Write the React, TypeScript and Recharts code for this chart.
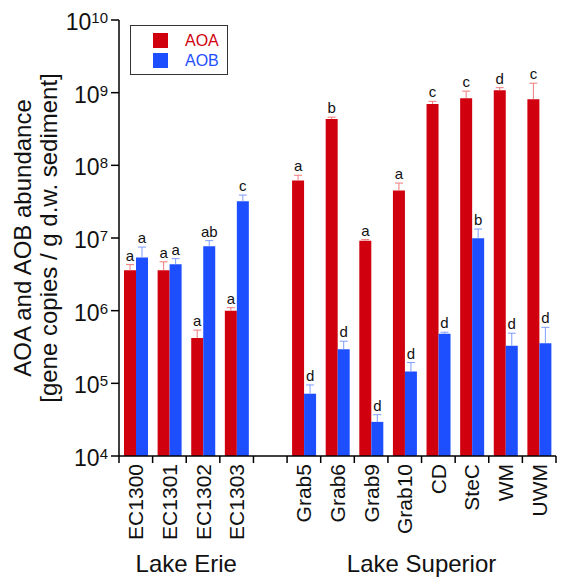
import React from 'react';
import { ComposedChart, Bar, XAxis, YAxis, LabelList, Legend } from 'recharts';

// sites, with an empty slot between the two lakes
const sites = ['EC1300', 'EC1301', 'EC1302', 'EC1303', '', 'Grab5', 'Grab6', 'Grab9', 'Grab10', 'CD', 'SteC', 'WM', 'UWM'];

const aoaValues = [3.6e6, 3.6e6, 4.2e5, 1.0e6, null, 6.2e7, 4.35e8, 9.2e6, 4.5e7, 7.0e8, 8.4e8, 1.08e9, 8.1e8];
const aoaErrors = [0.7e6, 1.1e6, 1.2e5, 1.0e5, null, 1.1e7, 2.5e7, 3.0e5, 1.2e7, 6.0e7, 2.1e8, 9.0e7, 5.4e8];
const aoaLetters = ['a', 'a', 'a', 'a', '', 'a', 'b', 'a', 'a', 'c', 'c', 'd', 'c'];

const aobValues = [5.4e6, 4.35e6, 7.7e6, 3.2e7, null, 7.2e4, 2.95e5, 2.95e4, 1.46e5, 4.8e5, 9.9e6, 3.3e5, 3.57e5];
const aobErrors = [2.1e6, 0.85e6, 1.5e6, 7.0e6, null, 2.3e4, 8.5e4, 7.5e3, 4.7e4, 2.5e4, 3.4e6, 1.6e5, 2.33e5];
const aobLetters = ['a', 'a', 'ab', 'c', '', 'd', 'd', 'd', 'd', 'd', 'b', 'd', 'd'];

const lakeNames = ['Lake Erie', 'Lake Superior'];
const lakeStart = [0, 5];
const lakeEnd = [3, 12];

const yTicks = [1e4, 1e5, 1e6, 1e7, 1e8, 1e9, 1e10];
const Y_MIN = 1e4;
const Y_MAX = 1e10;

const AOA_COLOR = '#d0000e';
const AOB_COLOR = '#1e4fff';
const AOA_ERR = '#f07a7a';
const AOB_ERR = '#7f9bff';
const FONT = '"Liberation Sans", Arial, sans-serif';

const W = 566;
const H = 584;
const MARGIN = { top: 20, right: 10, bottom: 0, left: 0 };
const Y_AXIS_W = 119;
const X_AXIS_H = 128;
const PLOT_W = W - MARGIN.left - MARGIN.right - Y_AXIS_W;
const BAND = PLOT_W / sites.length;
const X_TICK = 7;
const X_TICK_MARGIN = 1;

const data = sites.map((name, i) => ({
  name,
  i,
  aoa: aoaValues[i],
  aob: aobValues[i],
}));

// upper error whisker + significance letter, placed from the bar's own geometry
const errorAndLetter = (values: (number | null)[], errors: (number | null)[], letters: string[], color: string) => (props: any) => {
  const i = props.value;
  const v = values[i];
  if (v == null) return null;
  const vb = props.viewBox || props;
  const { x, y, width, height } = vb;
  const cx = x + width / 2;
  const perDecade = height / Math.log10(v / Y_MIN);
  const top = y - Math.log10((v + (errors[i] || 0)) / v) * perDecade;
  return (
    <g>
      <line x1={cx} x2={cx} y1={y} y2={top} stroke={color} strokeWidth={1} />
      <line x1={cx - 4} x2={cx + 4} y1={top} y2={top} stroke={color} strokeWidth={1} />
      <text x={cx} y={top - 4} textAnchor="middle" fontSize={15} fill="#111" fontFamily={FONT}>
        {letters[i]}
      </text>
    </g>
  );
};

const XTick = (props: any) => {
  const { x, y, payload, index } = props;
  const axisY = y - X_TICK - X_TICK_MARGIN;
  const left = x - BAND / 2;
  const lake = lakeStart.indexOf(index);
  return (
    <g>
      <line x1={left} x2={left} y1={axisY} y2={axisY + X_TICK} stroke="#000" strokeWidth={1.5} />
      {index === sites.length - 1 && (
        <line x1={x + BAND / 2} x2={x + BAND / 2} y1={axisY} y2={axisY + X_TICK} stroke="#000" strokeWidth={1.5} />
      )}
      {payload.value && (
        <text
          x={x}
          y={y}
          transform={`rotate(-90, ${x}, ${y})`}
          textAnchor="end"
          dominantBaseline="central"
          fontSize={21}
          fill="#111"
          fontFamily={FONT}
        >
          {payload.value}
        </text>
      )}
      {lake >= 0 && (
        <text
          x={x + ((lakeEnd[lake] - lakeStart[lake]) * BAND) / 2}
          y={axisY + 116}
          textAnchor="middle"
          fontSize={24}
          fill="#111"
          fontFamily={FONT}
        >
          {lakeNames[lake]}
        </text>
      )}
    </g>
  );
};

const YTick = (props: any) => {
  const { x, y, payload } = props;
  const exp = Math.round(Math.log10(payload.value));
  return (
    <text x={x} y={y + 10} textAnchor="end" fontSize={23} fill="#111" fontFamily={FONT}>
      <tspan>10</tspan>
      <tspan dy={-7} fontSize={15}>{exp}</tspan>
    </text>
  );
};

const YTitle = (props: any) => {
  const vb = props.viewBox;
  const cy = vb.y + vb.height / 2;
  const x1 = vb.x + 31;
  const x2 = vb.x + 57;
  return (
    <g fontSize={24} fill="#111" fontFamily={FONT}>
      <text x={x1} y={cy} transform={`rotate(-90, ${x1}, ${cy})`} textAnchor="middle">
        AOA and AOB abundance
      </text>
      <text x={x2} y={cy} transform={`rotate(-90, ${x2}, ${cy})`} textAnchor="middle">
        [gene copies / g d.w. sediment]
      </text>
    </g>
  );
};

const legendItems = [
  { label: 'AOA', color: AOA_COLOR },
  { label: 'AOB', color: AOB_COLOR },
];

const LegendBox = () => (
  <div
    style={{
      position: 'relative',
      width: 98,
      height: 50,
      boxSizing: 'border-box',
      border: '1px solid #333',
      background: '#fff',
      fontFamily: FONT,
    }}
  >
    {legendItems.map((it, k) => (
      <div key={it.label} style={{ position: 'absolute', left: 22, top: 7 + k * 20, height: 15, display: 'flex', alignItems: 'center' }}>
        <div style={{ width: 15, height: 15, background: it.color }} />
        <span style={{ marginLeft: 17, fontSize: 16, color: it.color, lineHeight: '15px' }}>{it.label}</span>
      </div>
    ))}
  </div>
);

export default function App() {
  return (
    <div style={{ position: 'absolute', left: 0, top: 0, width: W, height: H, background: '#fff' }}>
      <ComposedChart width={W} height={H} data={data} margin={MARGIN} barGap={0}>
        <XAxis
          dataKey="name"
          interval={0}
          height={X_AXIS_H}
          tickLine={false}
          tickSize={X_TICK}
          tickMargin={X_TICK_MARGIN}
          tick={<XTick />}
          axisLine={{ stroke: '#000', strokeWidth: 1.5 }}
        />
        <XAxis
          xAxisId="top"
          orientation="top"
          dataKey="name"
          height={0}
          tick={false}
          tickLine={false}
          axisLine={{ stroke: '#000', strokeWidth: 1.5 }}
        />
        <YAxis
          scale="log"
          domain={[Y_MIN, Y_MAX]}
          ticks={yTicks}
          interval={0}
          allowDataOverflow
          width={Y_AXIS_W}
          tickSize={8}
          tickMargin={3}
          tick={<YTick />}
          tickLine={{ stroke: '#000', strokeWidth: 1.5 }}
          axisLine={{ stroke: '#000', strokeWidth: 1.5 }}
          label={{ content: <YTitle /> }}
        />
        <YAxis
          yAxisId="right"
          orientation="right"
          type="number"
          domain={[0, 1]}
          width={0}
          tick={false}
          tickLine={false}
          axisLine={{ stroke: '#000', strokeWidth: 1.5 }}
        />
        <Legend
          layout="vertical"
          align="center"
          verticalAlign="middle"
          wrapperStyle={{ left: 130, top: 25, width: 98, height: 50 }}
          content={() => <LegendBox />}
        />
        <Bar dataKey="aoa" fill={AOA_COLOR} barSize={12} isAnimationActive={false}>
          <LabelList dataKey="i" content={errorAndLetter(aoaValues, aoaErrors, aoaLetters, AOA_ERR)} />
        </Bar>
        <Bar dataKey="aob" fill={AOB_COLOR} barSize={12} isAnimationActive={false}>
          <LabelList dataKey="i" content={errorAndLetter(aobValues, aobErrors, aobLetters, AOB_ERR)} />
        </Bar>
      </ComposedChart>
    </div>
  );
}
